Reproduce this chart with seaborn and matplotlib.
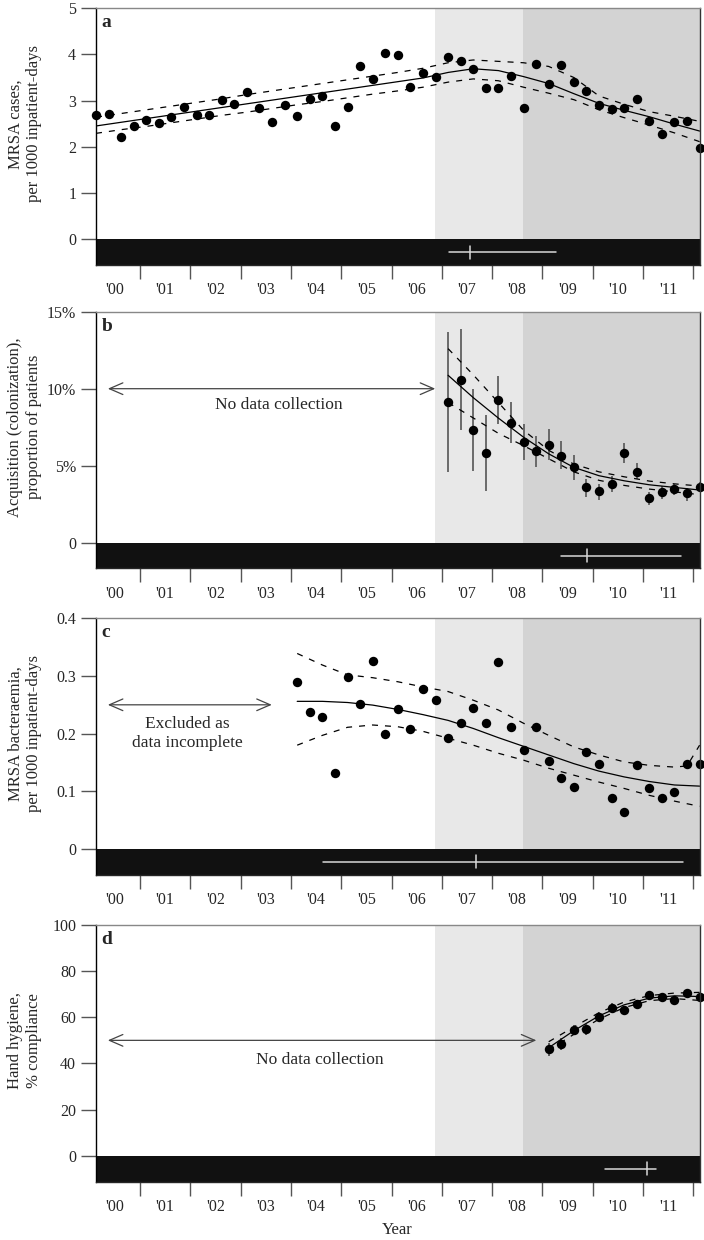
import numpy as np
import matplotlib
matplotlib.use("Agg")
import matplotlib.pyplot as plt
import seaborn as sns

# quarter midpoints, Q1 2000 .. Q1 2012
quarters = np.arange(2000.125, 2012.2, 0.25)
year_labels = ["'00", "'01", "'02", "'03", "'04", "'05", "'06", "'07", "'08", "'09", "'10", "'11"]

# intervention phases (start of light / dark shading)
phase2_start = 2006.87
phase3_start = 2008.62

# a: MRSA cases per 1000 inpatient-days
mrsa_cases = [2.69, 2.71, 2.21, 2.46, 2.59, 2.52, 2.64, 2.87, 2.68, 2.69, 3.02, 2.93, 3.18,
              2.83, 2.53, 2.91, 2.66, 3.03, 3.10, 2.44, 2.87, 3.74, 3.47, 4.04, 3.98, 3.30,
              3.59, 3.51, 3.94, 3.86, 3.68, 3.28, 3.28, 3.54, 2.83, 3.79, 3.36, 3.77, 3.41,
              3.21, 2.90, 2.82, 2.83, 3.04, 2.55, 2.28, 2.53, 2.55, 1.97]
cases_fit = [2.45, 2.53, 2.61, 2.69, 2.77, 2.85, 2.93, 3.01, 3.09, 3.17, 3.25, 3.33, 3.41,
             3.49, 3.61, 3.69, 3.65, 3.52, 3.37, 3.15, 2.94, 2.79, 2.65, 2.49, 2.34]
cases_hi = [2.64, 2.72, 2.80, 2.88, 2.96, 3.04, 3.13, 3.21, 3.29, 3.37, 3.45, 3.53, 3.61,
            3.70, 3.82, 3.88, 3.85, 3.82, 3.74, 3.50, 3.10, 2.92, 2.76, 2.66, 2.55]
cases_lo = [2.29, 2.37, 2.44, 2.52, 2.60, 2.68, 2.75, 2.83, 2.91, 2.98, 3.06, 3.14, 3.21,
            3.29, 3.40, 3.47, 3.43, 3.29, 3.16, 3.02, 2.80, 2.63, 2.47, 2.30, 2.11]
cases_break = (2007.14, 2007.56, 2009.27)

# b: acquisition, % of patients (from Q1 2007)
acq = [9.13, 10.59, 7.33, 5.80, 9.24, 7.76, 6.52, 5.93, 6.35, 5.65, 4.89, 3.59, 3.35, 3.80,
       5.80, 4.61, 2.89, 3.28, 3.46, 3.24, 3.63]
acq_err_hi = [13.70, 13.87, 10.00, 8.31, 10.81, 9.13, 7.68, 6.90, 7.40, 6.59, 5.70, 4.13, 3.81,
              4.35, 6.46, 5.15, 3.26, 3.70, 3.81, 3.55, 3.91]
acq_err_lo = [4.57, 7.33, 4.68, 3.33, 7.68, 6.46, 5.37, 4.94, 5.37, 4.79, 4.07, 2.94, 2.76,
              3.26, 5.15, 4.13, 2.46, 2.83, 3.11, 2.72, 3.26]
acq_fit = [10.87, 9.42, 8.09, 6.85, 5.77, 4.89, 4.35, 4.02, 3.76, 3.59, 3.42]
acq_hi = [12.60, 10.90, 9.10, 7.30, 6.00, 5.10, 4.60, 4.28, 4.00, 3.82, 3.68]
acq_lo = [9.10, 8.10, 7.10, 6.30, 5.45, 4.60, 4.05, 3.72, 3.48, 3.30, 3.12]
acq_break = (2009.37, 2009.88, 2011.76)

# c: MRSA bacteraemia per 1000 inpatient-days (from Q1 2004)
bact = [0.289, 0.237, 0.229, 0.132, 0.298, 0.252, 0.326, 0.199, 0.243, 0.208, 0.277, 0.258,
        0.193, 0.219, 0.245, 0.218, 0.324, 0.212, 0.171, 0.211, 0.153, 0.123, 0.107, 0.168,
        0.148, 0.089, 0.064, 0.146, 0.105, 0.088, 0.098, 0.148, 0.148]
bact_fit = [0.256, 0.256, 0.254, 0.2495, 0.242, 0.233, 0.223, 0.209, 0.193, 0.178, 0.163,
            0.148, 0.135, 0.125, 0.117, 0.111, 0.109]
bact_hi_t = [2004.125, 2004.625, 2005.125, 2005.625, 2006.125, 2006.625, 2007.125, 2007.625,
             2008.125, 2008.625, 2009.125, 2009.625, 2010.125, 2010.625, 2011.125, 2011.625,
             2011.875, 2012.125]
bact_hi = [0.339, 0.319, 0.302, 0.297, 0.290, 0.281, 0.273, 0.258, 0.241, 0.218, 0.197, 0.177,
           0.163, 0.151, 0.145, 0.142, 0.144, 0.180]
bact_lo = [0.180, 0.197, 0.211, 0.215, 0.212, 0.204, 0.192, 0.180, 0.166, 0.154, 0.140, 0.128,
           0.116, 0.105, 0.093, 0.083, 0.074]
bact_break = (2004.63, 2007.68, 2011.80)

# d: hand hygiene compliance, % (from Q1 2009)
hyg = [46.2, 48.5, 54.5, 54.8, 60.3, 64.1, 63.2, 65.7, 69.7, 69.0, 67.3, 70.7, 68.7]
hyg_err_hi = [48.8, 50.9, 56.8, 57.1, 62.3, 66.0, 65.1, 67.4, 71.4, 70.7, 69.0, 72.3, 70.3]
hyg_err_lo = [43.3, 46.0, 52.3, 52.5, 58.3, 62.2, 61.3, 64.0, 68.0, 67.3, 65.6, 69.1, 67.1]
hyg_fit = [46.8, 54.2, 60.6, 65.4, 68.3, 69.3, 69.0]
hyg_hi = [49.4, 55.8, 62.0, 66.6, 69.4, 70.5, 70.8]
hyg_lo = [45.8, 52.6, 59.2, 64.2, 67.2, 68.1, 67.3]
hyg_break = (2010.24, 2011.07, 2011.25)

X0, X1 = 2000.117, 2012.125
DASH = (0, (4.8, 5.6))

sns.set_style("ticks")
plt.rcParams["font.family"] = ["Liberation Serif", "DejaVu Serif"]
plt.rcParams["font.size"] = 11


def setup(ax, ylim, yticks, yticklabels, ylabel, letter, brk):
    ax.set_xlim(X0, X1)
    ax.set_ylim(*ylim)
    ax.axvspan(phase2_start, phase3_start, color="#e8e8e8", lw=0, zorder=0)
    ax.axvspan(phase3_start, X1, color="#d3d3d3", lw=0, zorder=0)
    ax.axhspan(ylim[0], 0, color="#111111", lw=0, zorder=1)

    # breakpoint estimate with CI, drawn in the black band
    mid = ylim[0] / 2
    ax.plot([brk[0], brk[2]], [mid, mid], color="#d8d8d8", lw=1.1, zorder=2)
    ax.plot([brk[1], brk[1]], [mid - ylim[0] * 0.25, mid + ylim[0] * 0.25],
            color="#d8d8d8", lw=1.1, zorder=2)

    ax.set_xticks(range(2001, 2013))
    ax.set_xticklabels([])
    ax.set_xticks(np.arange(2000.5, 2012, 1), minor=True)
    ax.set_xticklabels(year_labels, minor=True)
    ax.tick_params(axis="x", which="major", length=10, width=1, color="#555555")
    ax.tick_params(axis="x", which="minor", length=0, pad=12.5, labelsize=11.5)
    ax.set_yticks(yticks)
    ax.set_yticklabels(yticklabels)
    ax.tick_params(axis="y", length=11, width=1, color="#555555", pad=3, labelsize=11.5)

    ax.spines["left"].set_color("black")
    ax.spines["top"].set_color("#888888")
    ax.spines["right"].set_color("#333333")
    for s in ax.spines.values():
        s.set_linewidth(1)
        s.set_zorder(6)
    ax.spines["right"].set_visible(True)
    ax.spines["top"].set_visible(True)

    ax.set_ylabel(ylabel, fontsize=12, linespacing=1.2)
    ax.yaxis.set_label_coords(-0.089, 0.55)
    ax.text(0.01, 0.944, letter, transform=ax.transAxes, fontsize=14,
            fontweight="bold", va="center", ha="left")


def fits(ax, t, fit, hi, lo, hi_t=None):
    sns.lineplot(x=t, y=fit, color="black", lw=0.9, ax=ax, zorder=4)
    sns.lineplot(x=hi_t if hi_t is not None else t, y=hi, color="black", lw=0.9,
                 linestyle=DASH, ax=ax, zorder=4)
    sns.lineplot(x=t, y=lo, color="black", lw=0.9, linestyle=DASH, ax=ax, zorder=4)


def arrow(ax, x0, x1, y):
    ax.annotate("", xy=(x1, y), xytext=(x0, y),
                arrowprops=dict(arrowstyle="<->,head_length=0.97,head_width=0.42",
                                color="#444444", lw=0.9, shrinkA=0, shrinkB=0,
                                mutation_scale=10))


fig = plt.figure(figsize=(7.04, 12.4), dpi=100)
L, W = 95.6 / 704, 604 / 704
tops = [8.3, 311.7, 618.3, 925.0]
axes = [fig.add_axes([L, 1 - (t + 256.7) / 1240, W, 256.7 / 1240]) for t in tops]

pt = dict(color="black", s=46, linewidth=0, zorder=5, clip_on=False)

# a
ax = axes[0]
setup(ax, (-0.563, 5), range(6), [str(i) for i in range(6)],
      "MRSA cases,\nper 1000 inpatient-days", "a", cases_break)
fits(ax, np.arange(2000.125, 2012.2, 0.5), cases_fit, cases_hi, cases_lo)
sns.scatterplot(x=quarters, y=mrsa_cases, ax=ax, **pt)

# b
ax = axes[1]
setup(ax, (-1.67, 15), [0, 5, 10, 15], ["0", "5%", "10%", "15%"],
      "Acquisition (colonization),\nproportion of patients", "b", acq_break)
ax.vlines(quarters[28:], acq_err_lo, acq_err_hi, color="#555555", lw=1.2, zorder=3)
fits(ax, np.arange(2007.125, 2012.2, 0.5), acq_fit, acq_hi, acq_lo)
sns.scatterplot(x=quarters[28:], y=acq, ax=ax, **pt)
arrow(ax, 2000.36, 2006.87, 10)
ax.text(2003.75, 8.96, "No data collection", ha="center", va="center", fontsize=12.5)

# c
ax = axes[2]
setup(ax, (-0.0451, 0.4), [0, 0.1, 0.2, 0.3, 0.4], ["0", "0.1", "0.2", "0.3", "0.4"],
      "MRSA bacteraemia,\nper 1000 inpatient-days", "c", bact_break)
fits(ax, np.arange(2004.125, 2012.2, 0.5), bact_fit, bact_hi, bact_lo, hi_t=bact_hi_t)
sns.scatterplot(x=quarters[16:], y=bact, ax=ax, **pt)
arrow(ax, 2000.36, 2003.62, 0.25)
ax.text(2001.95, 0.20, "Excluded as\ndata incomplete", ha="center", va="center",
        fontsize=12.5, linespacing=1.2)

# d
ax = axes[3]
setup(ax, (-11.27, 100), range(0, 101, 20), [str(v) for v in range(0, 101, 20)],
      "Hand hygiene,\n% compliance", "d", hyg_break)
ax.vlines(quarters[36:], hyg_err_lo, hyg_err_hi, color="#444444", lw=1.2, zorder=3)
fits(ax, np.arange(2009.125, 2012.2, 0.5), hyg_fit, hyg_hi, hyg_lo)
sns.scatterplot(x=quarters[36:], y=hyg, ax=ax, **pt)
arrow(ax, 2000.36, 2008.88, 50)
ax.text(2004.57, 41.5, "No data collection", ha="center", va="center", fontsize=12.5)
ax.set_xlabel("Year", fontsize=12)
ax.xaxis.set_label_coords(0.5, -0.158)

fig.savefig("out.png", dpi=100)
